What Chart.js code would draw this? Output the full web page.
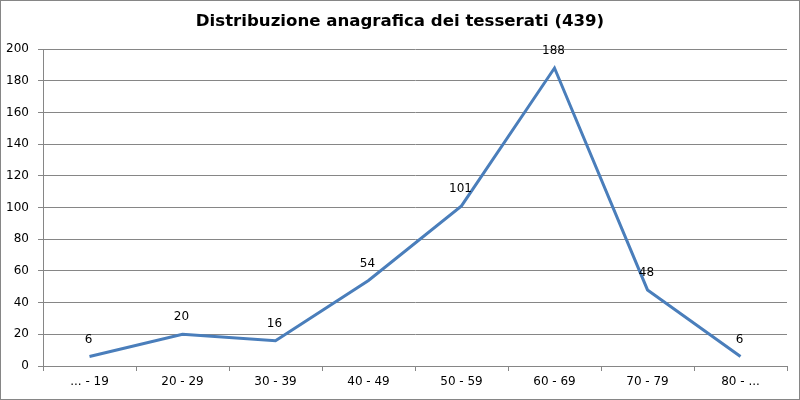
<!DOCTYPE html>
<html>
<head>
<meta charset="utf-8">
<script src="https://cdn.jsdelivr.net/npm/chart.js@4"></script>
<style>
    html, body { margin: 0; padding: 0; background: #fff; }
    #wrap { width: 800px; height: 400px; position: relative; }
</style>
</head>
<body>
<div id="wrap"><canvas id="ageChart"></canvas></div>
<script>
const categories = ['... - 19', '20 - 29', '30 - 39', '40 - 49', '50 - 59', '60 - 69', '70 - 79', '80 - ...'];
const members = [6, 20, 16, 54, 101, 188, 48, 6];
const yTicks = [0, 20, 40, 60, 80, 100, 120, 140, 160, 180, 200];
const titleText = 'Distribuzione anagrafica dei tesserati (439)';

const gridGray = '#868686';
const font = 'DejaVu Sans, Verdana, sans-serif';

// border round the whole chart and a title centred on the full width
const frame = {
    id: 'frame',
    afterDraw(chart) {
        const c = chart.ctx;
        c.save();
        c.strokeStyle = gridGray;
        c.lineWidth = 1;
        c.strokeRect(0.5, 0.5, chart.width - 1, chart.height - 1);
        c.fillStyle = '#000';
        c.font = 'bold 16.6px ' + font;
        c.textAlign = 'center';
        c.textBaseline = 'middle';
        c.fillText(titleText, chart.width / 2, 22);
        c.restore();
    }
};

const valueLabels = {
    id: 'valueLabels',
    afterDatasetsDraw(chart) {
        const c = chart.ctx;
        const meta = chart.getDatasetMeta(0);
        c.save();
        c.fillStyle = '#000';
        c.font = '12px ' + font;
        c.textAlign = 'center';
        c.textBaseline = 'middle';
        meta.data.forEach((pt, i) => {
            c.fillText(String(members[i]), pt.x - 1, pt.y - 17);
        });
        c.restore();
    }
};

new Chart(document.getElementById('ageChart'), {
    type: 'line',
    data: {
        labels: categories,
        datasets: [{
            data: members,
            borderColor: '#4a7ebb',
            borderWidth: 3,
            pointRadius: 0,
            tension: 0,
            fill: false
        }]
    },
    options: {
        responsive: true,
        maintainAspectRatio: false,
        animation: false,
        devicePixelRatio: 1,
        layout: { padding: { left: 0, right: 13, top: 49, bottom: 0 } },
        plugins: {
            legend: { display: false },
            tooltip: { enabled: false },
            title: { display: false }
        },
        scales: {
            x: {
                offset: true,
                afterFit: s => { s.height = 34; },
                grid: {
                    offset: true,
                    drawOnChartArea: false,
                    tickLength: 5,
                    color: gridGray
                },
                border: { color: gridGray },
                ticks: { color: '#000', font: { family: font, size: 12 }, padding: 4, maxRotation: 0 }
            },
            y: {
                min: 0,
                max: 200,
                afterFit: s => { s.width = 43; },
                afterBuildTicks: s => { s.ticks = yTicks.map(v => ({ value: v })); },
                grid: { color: gridGray, tickLength: 5 },
                border: { color: gridGray },
                ticks: { color: '#000', font: { family: font, size: 12 }, padding: 9 }
            }
        }
    },
    plugins: [frame, valueLabels]
});
</script>
</body>
</html>
